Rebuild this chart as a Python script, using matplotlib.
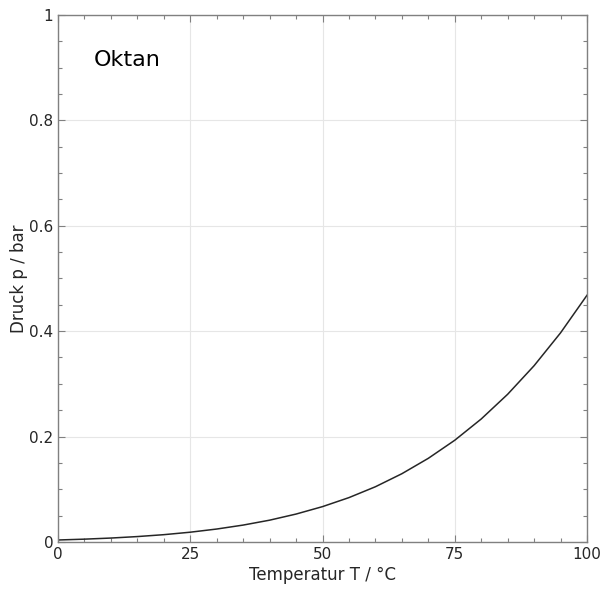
import numpy as np
import matplotlib.pyplot as plt
from matplotlib.ticker import MultipleLocator

# vapour pressure of octane
T = [0, 5, 10, 15, 20, 25, 30, 35, 40, 45, 50,
     55, 60, 65, 70, 75, 80, 85, 90, 95, 100]
p = [0.0038, 0.0054, 0.0075, 0.0103, 0.0139, 0.0186, 0.0246, 0.0321, 0.0414, 0.0530, 0.0671,
     0.0842, 0.1048, 0.1295, 0.1587, 0.1930, 0.2333, 0.2802, 0.3344, 0.3967, 0.468]
xticks = [0, 25, 50, 75, 100]
yticks = [0, 0.2, 0.4, 0.6, 0.8, 1]
ytick_labels = ['0', '0.2', '0.4', '0.6', '0.8', '1']

fig = plt.figure(figsize=(6, 5.93), dpi=100)
ax = fig.add_axes([0.0967, 0.086, 0.8816, 0.889])

ax.plot(T, p, color='#262626', lw=1.1)

ax.set_xlim(0, 100)
ax.set_ylim(0, 1)
ax.set_xticks(xticks)
ax.set_yticks(yticks)
ax.set_yticklabels(ytick_labels)
ax.xaxis.set_minor_locator(MultipleLocator(5))
ax.yaxis.set_minor_locator(MultipleLocator(0.05))
ax.tick_params(which='both', direction='in', top=True, right=True,
               colors='#808080', labelcolor='#262626', labelsize=11)
ax.tick_params(which='major', length=5, width=0.8)
ax.tick_params(which='minor', length=3, width=0.8)
for s in ax.spines.values():
    s.set_color('#808080')
    s.set_linewidth(1.0)
ax.grid(True, which='major', color='#e6e6e6', lw=0.8)
ax.set_axisbelow(True)

ax.set_xlabel('Temperatur T / °C', fontsize=12, color='#262626', labelpad=3)
ax.set_ylabel('Druck p / bar', fontsize=12, color='#262626', labelpad=1)
ax.text(6.8, 0.915, 'Oktan', fontsize=16, color='black', va='center')

plt.savefig('out.png')
